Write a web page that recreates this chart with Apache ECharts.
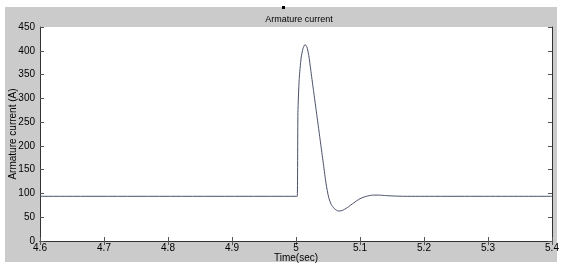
<!DOCTYPE html>
<html>
<head>
<meta charset="utf-8">
<script src="https://cdn.jsdelivr.net/npm/echarts@6/dist/echarts.min.js"></script>
<style>
html,body{margin:0;padding:0;background:#fff;}
#c{width:575px;height:273px;}
</style>
</head>
<body>
<div id="c"></div>
<script>
var titleText = 'Armature current';
var xLabel = 'Time(sec)';
var yLabel = 'Armature current (A)';
var time = [4.6, 5.0, 5.002, 5.003, 5.005, 5.008, 5.011, 5.014, 5.017, 5.020, 5.023, 5.027, 5.031, 5.035, 5.039, 5.043, 5.047, 5.051, 5.055, 5.060, 5.066, 5.072, 5.080, 5.090, 5.100, 5.110, 5.120, 5.130, 5.140, 5.155, 5.170, 5.4];
var current = [94, 94, 94, 270, 340, 385, 405, 413, 408, 390, 360, 320, 280, 240, 200, 160, 120, 92, 77, 68, 63, 64, 70, 80, 89, 94, 96.5, 96.5, 95.5, 94.5, 94, 94];

var data = time.map(function (t, i) { return [t, current[i]]; });
var fmt = function (v) { return String(parseFloat(v.toFixed(1))); };
var axisCommon = {
  axisLine: { show: true, lineStyle: { color: '#333', width: 1 } },
  axisTick: { show: true, inside: true, length: 4, lineStyle: { color: '#555' } },
  splitLine: { show: false }
};
var chart = echarts.init(document.getElementById('c'), null, { renderer: 'canvas' });
chart.setOption({
  animation: false,
  backgroundColor: '#ffffff',
  graphic: [
    { type: 'rect', z: -10, silent: true, shape: { x: 5, y: 7, width: 552, height: 255 }, style: { fill: '#cbcbcb' } },
    { type: 'rect', z: -9, silent: true, shape: { x: 40, y: 27, width: 512, height: 214 }, style: { fill: '#ffffff' } },
    { type: 'rect', z: 10, silent: true, shape: { x: 282, y: 6, width: 3, height: 3 }, style: { fill: '#000' } }
  ],
  title: {
    text: titleText, left: 294, top: 10, textAlign: 'center',
    textStyle: { fontFamily: 'Liberation Sans', fontSize: 9, fontWeight: 'normal', color: '#000' }
  },
  grid: { left: 40, top: 27, right: 23, bottom: 32, containLabel: false, outerBoundsMode: 'none' },
  xAxis: [
    Object.assign({
      type: 'value', min: 4.6, max: 5.4, interval: 0.1, position: 'bottom',
      name: xLabel, nameLocation: 'middle', nameGap: 12, nameMoveOverlap: false,
      nameTextStyle: { fontFamily: 'Liberation Sans', fontSize: 10, color: '#000', verticalAlign: 'top' },
      axisLabel: { formatter: fmt, fontFamily: 'Liberation Sans', fontSize: 10, color: '#000', margin: 2 }
    }, axisCommon),
    Object.assign({
      type: 'value', min: 4.6, max: 5.4, interval: 0.1, position: 'top',
      axisLabel: { show: false }
    }, axisCommon)
  ],
  yAxis: [
    Object.assign({
      type: 'value', min: 0, max: 450, interval: 50, position: 'left',
      name: yLabel, nameLocation: 'middle', nameGap: 22, nameRotate: 90, nameMoveOverlap: false,
      nameTextStyle: { fontFamily: 'Liberation Sans', fontSize: 10, color: '#000' },
      axisLabel: { fontFamily: 'Liberation Sans', fontSize: 10, color: '#000', margin: 5 }
    }, axisCommon),
    Object.assign({
      type: 'value', min: 0, max: 450, interval: 50, position: 'right',
      axisLabel: { show: false }
    }, axisCommon)
  ],
  series: [{
    type: 'line', data: data, showSymbol: false, smooth: 0.2,
    lineStyle: { color: '#4b5068', width: 1 }
  }]
});
</script>
</body>
</html>
